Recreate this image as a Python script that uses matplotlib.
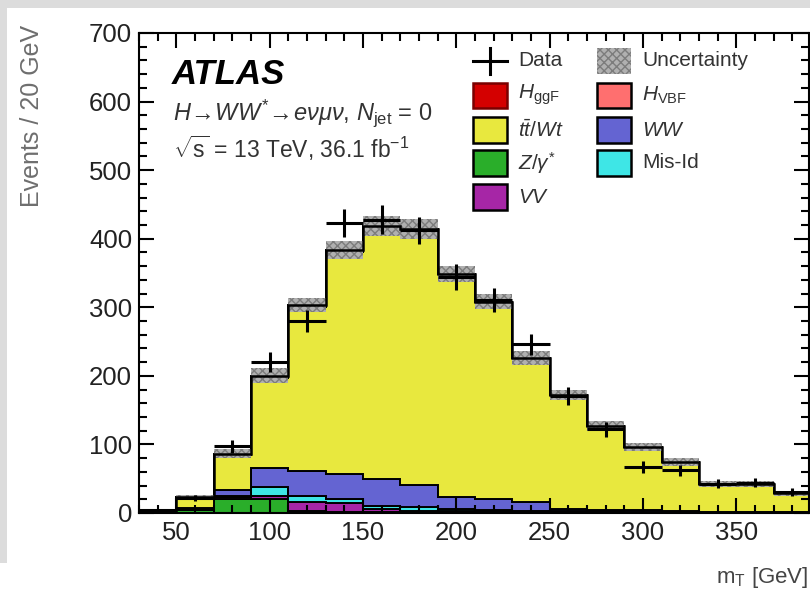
import numpy as np
import matplotlib.pyplot as plt
from matplotlib.patches import Rectangle
from matplotlib.lines import Line2D
from matplotlib.ticker import MultipleLocator

plt.rcParams['font.family'] = ['Liberation Sans', 'DejaVu Sans']
plt.rcParams['mathtext.fontset'] = 'custom'
plt.rcParams['mathtext.rm'] = 'Liberation Sans'
plt.rcParams['mathtext.it'] = 'Liberation Sans:italic'
plt.rcParams['mathtext.bf'] = 'Liberation Sans:bold'
plt.rcParams['hatch.linewidth'] = 1.0

# --- data (20 GeV bins) ---
bin_edges = [30, 50, 70, 90, 110, 130, 150, 170, 190, 210, 230, 250,
             270, 290, 310, 330, 350, 370, 390]

data = [4, 22, 97, 220, 280, 423, 428, 412, 344, 311, 246, 170,
        122, 67, 62, 43, 44, 31]

zjets = [1, 4, 20, 20, 3, 2, 1, 1, 0.5, 0.5, 0.5, 0.3, 0.2, 0.2, 0.1, 0.1, 0.1, 0.1]
vv = [0.5, 2, 3, 5, 13, 12, 5, 2, 3, 3, 2, 1.5, 1.5, 1, 1, 0.8, 0.8, 0.5]
misid = [0.5, 1, 2, 13, 9, 6, 4, 6, 2, 1.5, 1, 1, 0.8, 0.8, 0.5, 0.4, 0.4, 0.2]
ww = [0.3, 1, 8, 28, 36, 37, 40, 32, 18.5, 15, 12.5, 3.2, 2.5, 2, 1.4, 0.7, 0.7, 0.2]
top = [1, 15, 52, 131, 239, 324, 367, 373, 324, 288, 210, 166, 122, 92, 71, 40, 40, 28]
h_vbf = [0, 0, 0.1, 0.2, 0.3, 0.3, 0.2, 0.2, 0.1, 0.1, 0.1, 0, 0, 0, 0, 0, 0, 0]
h_ggf = [0, 0.3, 1.5, 3, 3, 2, 1, 0.5, 0.3, 0.2, 0.1, 0.1, 0, 0, 0, 0, 0, 0]

rel_unc = [0.3, 0.12, 0.08, 0.055, 0.035, 0.033, 0.035, 0.035, 0.035,
           0.035, 0.045, 0.045, 0.06, 0.065, 0.08, 0.1, 0.1, 0.12]

# stack order, bottom to top
stack = [
    (zjets, '#2aae2a'),
    (vv, '#a626a6'),
    (misid, '#3ee6e6'),
    (ww, '#6464d2'),
    (top, '#e8e83e'),
    (h_vbf, '#ff6f6f'),
    (h_ggf, '#d40000'),
]

W, H = 810, 604


def fx(x):
    return x / W


def fy(y):
    return 1 - y / H


fig = plt.figure(figsize=(W / 100, H / 100), dpi=100)
fig.patch.set_facecolor('white')

# screenshot borders
fig.patches.append(Rectangle((0, fy(8)), 1, 8 / H, transform=fig.transFigure,
                             facecolor='#dcdcdc', edgecolor='none'))
fig.patches.append(Rectangle((0, fy(563)), fx(7), 555 / H, transform=fig.transFigure,
                             facecolor='#dcdcdc', edgecolor='none'))

ax = fig.add_axes([fx(139), fy(513), fx(670), 480 / H])

edges = np.array(bin_edges, dtype=float)
centers = 0.5 * (edges[:-1] + edges[1:])
half_w = 0.5 * (edges[1:] - edges[:-1])

base = np.zeros(len(data))
for vals, col in stack:
    upper = base + np.array(vals, dtype=float)
    ax.stairs(upper, edges, baseline=base, fill=True, facecolor=col,
              edgecolor='black', lw=1.4)
    base = upper
total = base

# uncertainty band
unc = total * np.array(rel_unc)
ax.stairs(total + unc, edges, baseline=total - unc, fill=True,
          facecolor='#b0b0b0', edgecolor='#7c7c7c', hatch='xxxx', lw=0)
ax.stairs(total, edges, color='black', lw=1.8)

# data
d = np.array(data, dtype=float)
ax.errorbar(centers, d, yerr=np.sqrt(d), xerr=half_w, fmt='none',
            ecolor='black', elinewidth=2.2, capsize=0, zorder=5)

ax.set_xlim(30, 389)
ax.set_ylim(0, 700)
ax.xaxis.set_major_locator(MultipleLocator(50))
ax.xaxis.set_minor_locator(MultipleLocator(10))
ax.yaxis.set_major_locator(MultipleLocator(100))
ax.yaxis.set_minor_locator(MultipleLocator(20))
ax.tick_params(which='both', direction='in', top=True, right=True,
               width=1.5, labelsize=18.5, labelcolor='#222222')
ax.tick_params(which='major', length=11)
ax.tick_params(which='minor', length=6)
ax.tick_params(axis='y', pad=5)
ax.tick_params(axis='x', pad=6)
for sp in ax.spines.values():
    sp.set_linewidth(1.5)

# axis titles
fig.text(fx(32), fy(25), 'Events / 20 GeV', rotation=90, ha='center', va='top',
         fontsize=18, color='#6e6e6e')
fig.text(fx(808), fy(578), 'm$_{\\rm T}$ [GeV]', ha='right', va='center',
         fontsize=16, color='#444444')

# ATLAS labels
fig.text(fx(172), fy(75), 'ATLAS', fontsize=25, fontweight='bold', fontstyle='italic',
         ha='left', va='center', color='black')
fig.text(fx(173), fy(113),
         r'$H\!\rightarrow\!WW^{*}\!\rightarrow\!e\nu\mu\nu$, $N_{\rm jet}$ = 0',
         fontsize=17, ha='left', va='center', color='#333333')
fig.text(fx(173), fy(148), r'$\sqrt{\rm s}$ = 13 TeV, 36.1 fb$^{-1}$',
         fontsize=16.5, ha='left', va='center', color='#333333')

# legend, drawn ROOT-style
leg_fs = 15
box_w, box_h = 34, 25
col_x = [473, 597]
rows_y = [61, 95, 130, 163, 197]
entries = [
    (0, 0, 'data', 'Data'),
    (1, 0, 'unc', 'Uncertainty'),
    (0, 1, ('#d40000', '#7a0000'), r'$H_{\rm ggF}$'),
    (1, 1, ('#ff6f6f', 'black'), r'$H_{\rm VBF}$'),
    (0, 2, ('#e8e83e', 'black'), r'$t\bar{t}$/$Wt$'),
    (1, 2, ('#6464d2', 'black'), r'$WW$'),
    (0, 3, ('#2aae2a', 'black'), r'$Z/\gamma^{*}$'),
    (1, 3, ('#3ee6e6', 'black'), 'Mis-Id'),
    (0, 4, ('#a626a6', 'black'), r'$VV$'),
]
for c, r, kind, label in entries:
    x0 = col_x[c]
    yc = rows_y[r]
    if kind == 'data':
        fig.lines.append(Line2D([fx(x0), fx(x0 + box_w)], [fy(yc), fy(yc)],
                                transform=fig.transFigure, color='black', lw=2.2))
        fig.lines.append(Line2D([fx(x0 + box_w / 2)] * 2, [fy(yc - 13), fy(yc + 13)],
                                transform=fig.transFigure, color='black', lw=2.2))
    elif kind == 'unc':
        fig.patches.append(Rectangle((fx(x0), fy(yc + box_h / 2)), box_w / W, box_h / H,
                                     transform=fig.transFigure, facecolor='#b0b0b0',
                                     edgecolor='#7c7c7c', hatch='xxxx', lw=0))
    else:
        fc, ec = kind
        fig.patches.append(Rectangle((fx(x0), fy(yc + box_h / 2)), box_w / W, box_h / H,
                                     transform=fig.transFigure, facecolor=fc,
                                     edgecolor=ec, lw=1.8))
    fig.text(fx(x0 + box_w + 11), fy(yc), label, fontsize=leg_fs, ha='left',
             va='center', color='#333333')

fig.savefig('out.png', dpi=100)
